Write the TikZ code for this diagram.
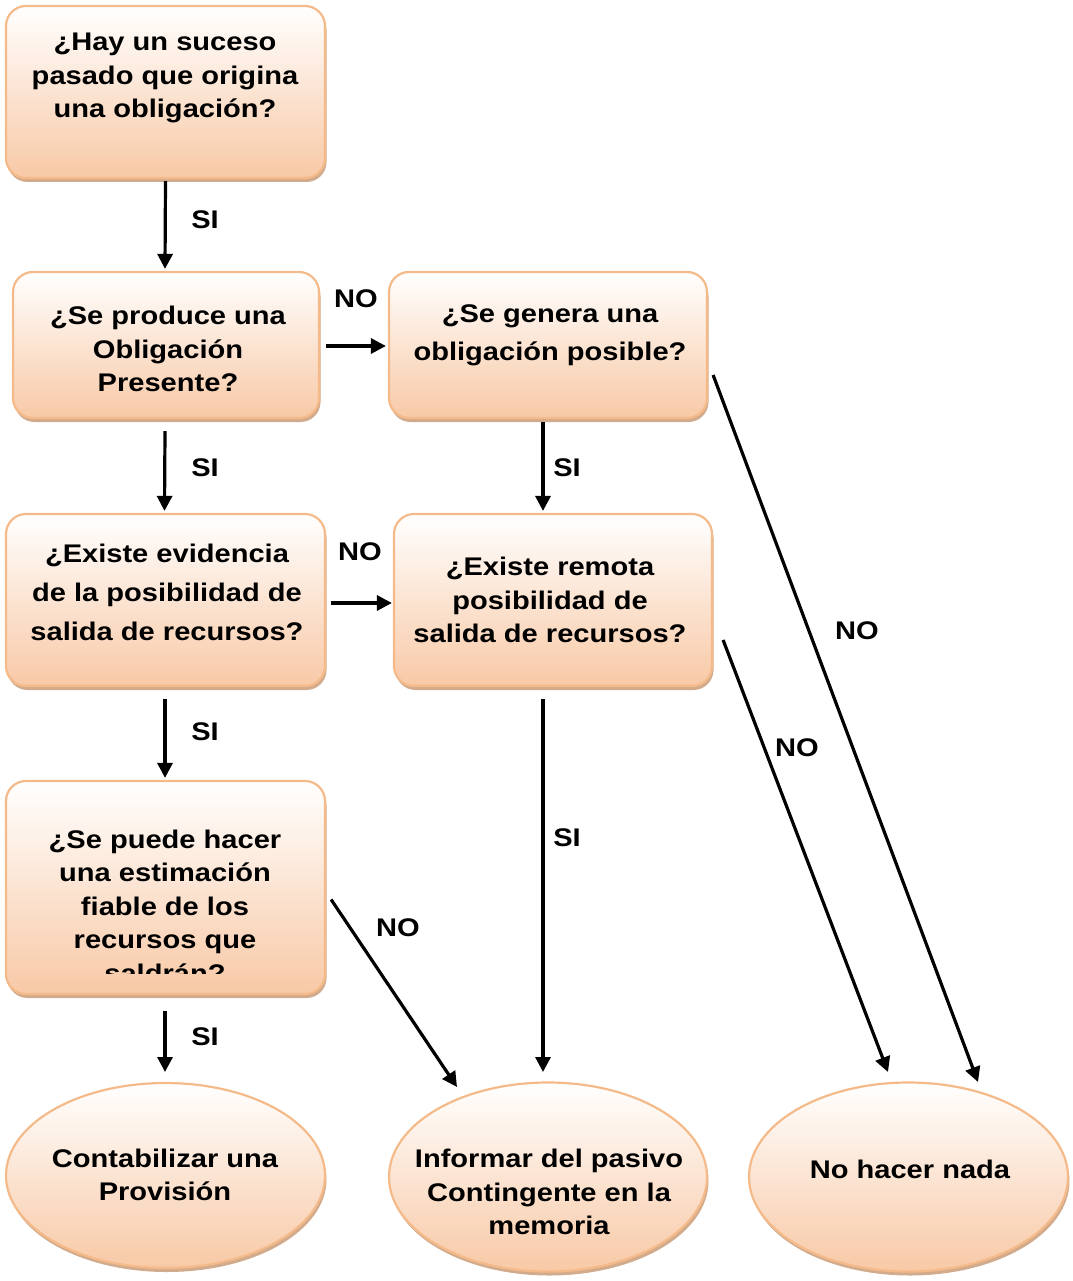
\documentclass[tikz,border=0pt]{standalone}
\usepackage{fontspec}
\setmainfont{Liberation Sans}[FakeStretch=1.14]
\usetikzlibrary{arrows.meta,shadows,shapes.geometric}
\definecolor{bord}{HTML}{F5BA8A}
\definecolor{peach}{HTML}{F8C9A6}
\definecolor{shc}{HTML}{D2AB8C}
\tikzset{
  boxbase/.style={draw=bord, line width=2.2pt, top color=white, bottom color=peach,
    drop shadow={shadow xshift=1.5pt, shadow yshift=-4pt, fill=shc, opacity=1}},
  qbox/.style={boxbase, rounded corners=20pt, inner sep=0pt},
  endell/.style={boxbase, ellipse, inner sep=0pt},
  txt/.style={font=\fontsize{25.5}{33.5}\selectfont\bfseries, align=center, text=black, inner sep=0pt},
  lbl/.style={font=\fontsize{25.5}{30}\selectfont\bfseries, text=black, inner sep=0pt},
  arr/.style={line width=3.2pt, -{Triangle[length=15pt,width=15pt]}}
}
\begin{document}
\begin{tikzpicture}[x=1pt,y=-1pt]
\useasboundingbox (0,0) rectangle (1072,1281);
% boxes
\node[qbox, minimum width=319pt, minimum height=172pt] (boxA) at (165.5,92) {};
\node[qbox, minimum width=306pt, minimum height=146pt] (boxB) at (166,345) {};
\node[qbox, minimum width=318pt, minimum height=146pt] (boxC) at (548,345) {};
\node[qbox, minimum width=319pt, minimum height=172pt] (boxD) at (165.5,600) {};
\node[qbox, minimum width=318pt, minimum height=172pt] (boxE) at (553,600) {};
\node[qbox, minimum width=319pt, minimum height=213pt] (boxF) at (165.5,887.5) {};
\node[endell, minimum width=319pt, minimum height=185pt] (G) at (165.5,1175.5) {};
\node[endell, minimum width=318pt, minimum height=189pt] (H) at (548,1177) {};
\node[endell, minimum width=319pt, minimum height=189pt] (I) at (908.5,1177) {};
% texts
\node[txt] (tA) at (165,78) {¿Hay un suceso\\pasado que origina\\una obligación?};
\node[txt] (tB) at (168,349) {¿Se produce una\\Obligación\\Presente?};
\node[txt, font=\fontsize{25.5}{38}\selectfont\bfseries] (tC) at (550,335) {¿Se genera una\\obligación posible?};
\node[txt, font=\fontsize{25.5}{39}\selectfont\bfseries] (tD) at (167,592) {¿Existe evidencia\\de la posibilidad de\\salida de recursos?};
\node[txt] (tE) at (550,600) {¿Existe remota\\posibilidad de\\salida de recursos?};
\begin{scope}
\clip (0,780) rectangle (400,973);
\node[txt] (tF) at (165,906) {¿Se puede hacer\\una estimación\\fiable de los\\recursos que\\saldrán?};
\end{scope}
\node[txt] (tG) at (165,1175) {Contabilizar una\\Provisión};
\node[txt] (tH) at (549,1192) {Informar del pasivo\\Contingente en la\\memoria};
\node[txt] (tI) at (910,1169) {No hacer nada};
% connectors
\draw[arr] ([yshift=-2pt]boxA.south) -- ([shift={(-1,-2)}]boxB.north);
\draw[arr] ([shift={(-1,12)}]boxB.south) -- ([shift={(-1,-2)}]boxD.north);
\draw[arr] ([shift={(6,1)}]boxB.east) -- ([shift={(-2,1)}]boxC.west);
\draw[arr] ([shift={(-5,3)}]boxC.south) -- ([shift={(-10,-2)}]boxE.north);
\draw[arr] ([shift={(5,3)}]boxD.east) -- ([shift={(-1,3)}]boxE.west);
\draw[arr] ([shift={(-0.5,12)}]boxD.south) -- ([shift={(-0.5,-2)}]boxF.north);
\draw[arr] ([shift={(-0.5,16)}]boxF.south) -- ([shift={(-0.5,-103.5)}]G.center);
\draw[arr] ([shift={(5,12)}]boxF.east) -- ([shift={(-91,-90)}]H.center);
\draw[arr] ([shift={(-10,12)}]boxE.south) -- ([shift={(-5,-105)}]H.center);
\draw[arr] ([shift={(10,40)}]boxE.east) -- ([shift={(-20.5,-105)}]I.center);
\draw[arr] ([shift={(5,30)}]boxC.east) -- ([shift={(69.5,-95)}]I.center);
% labels
\node[lbl] (l1) at (205,220) {SI};
\node[lbl] (l2) at (205,468) {SI};
\node[lbl] (l3) at (567,468) {SI};
\node[lbl] (l4) at (205,732) {SI};
\node[lbl] (l5) at (205,1037) {SI};
\node[lbl] (l6) at (567,838) {SI};
\node[lbl] (n1) at (356,299) {NO};
\node[lbl] (n2) at (360,552) {NO};
\node[lbl] (n3) at (398,928) {NO};
\node[lbl] (n4) at (797,748) {NO};
\node[lbl] (n5) at (857,631) {NO};
\end{tikzpicture}
\end{document}
